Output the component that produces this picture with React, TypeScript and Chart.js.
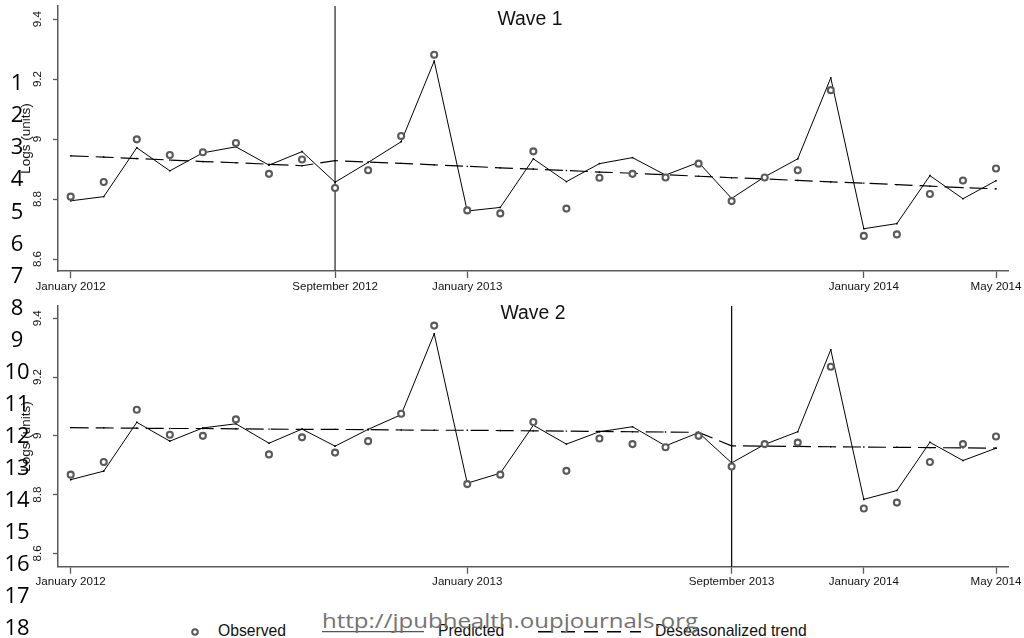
import React, { useEffect, useLayoutEffect, useRef } from "react";
import { Chart, registerables } from "chart.js";

Chart.register(...registerables);

// ---------- data ----------
const months = [
  "January 2012", "February 2012", "March 2012", "April 2012", "May 2012", "June 2012",
  "July 2012", "August 2012", "September 2012", "October 2012", "November 2012", "December 2012",
  "January 2013", "February 2013", "March 2013", "April 2013", "May 2013", "June 2013",
  "July 2013", "August 2013", "September 2013", "October 2013", "November 2013", "December 2013",
  "January 2014", "February 2014", "March 2014", "April 2014", "May 2014",
];

const wave1Observed = [8.808, 8.857, 8.999, 8.947, 8.956, 8.987, 8.884, 8.932, 8.837, 8.896, 9.010, 9.281, 8.762, 8.752, 8.959, 8.768, 8.871, 8.884, 8.872, 8.918, 8.793, 8.872, 8.896, 9.163, 8.677, 8.682, 8.817, 8.862, 8.902];
const wave1Predicted = [8.794, 8.808, 8.971, 8.894, 8.954, 8.974, 8.913, 8.958, 8.856, 8.922, 8.991, 9.260, 8.760, 8.772, 8.934, 8.858, 8.918, 8.938, 8.880, 8.922, 8.802, 8.874, 8.934, 9.204, 8.701, 8.718, 8.878, 8.801, 8.861];
const wave1Trend = [8.944, 8.940, 8.935, 8.930, 8.925, 8.921, 8.916, 8.911, 8.928, 8.923, 8.919, 8.914, 8.909, 8.904, 8.900, 8.895, 8.890, 8.886, 8.881, 8.876, 8.871, 8.867, 8.862, 8.857, 8.853, 8.848, 8.843, 8.838, 8.834];

const wave2Observed = [8.868, 8.911, 9.089, 9.004, 9.000, 9.056, 8.937, 8.995, 8.943, 8.982, 9.075, 9.375, 8.836, 8.868, 9.047, 8.881, 8.991, 8.972, 8.961, 9.000, 8.896, 8.972, 8.977, 9.235, 8.753, 8.773, 8.911, 8.972, 8.998];
const wave2Predicted = [8.851, 8.880, 9.046, 8.982, 9.027, 9.041, 8.975, 9.023, 8.965, 9.022, 9.072, 9.347, 8.839, 8.873, 9.036, 8.972, 9.014, 9.031, 8.966, 9.011, 8.908, 8.971, 9.014, 9.293, 8.784, 8.814, 8.978, 8.916, 8.958];
const wave2Trend = [9.028, 9.027, 9.026, 9.025, 9.025, 9.024, 9.023, 9.022, 9.022, 9.021, 9.020, 9.019, 9.019, 9.018, 9.017, 9.016, 9.015, 9.014, 9.013, 9.012, 8.966, 8.965, 8.964, 8.963, 8.962, 8.961, 8.960, 8.959, 8.958];

const yTickValues = [8.6, 8.8, 9, 9.2, 9.4];
const wave1XTicks = ["January 2012", "September 2012", "January 2013", "January 2014", "May 2014"];
const wave2XTicks = ["January 2012", "January 2013", "September 2013", "January 2014", "May 2014"];
const wave1Intervention = "September 2012";
const wave2Intervention = "September 2013";
const yAxisTitle = "Logs (units)";
const legendLabels = ["Observed", "Predicted", "Deseasonalized trend"];
const lineNumbers = ["1", "2", "3", "4", "5", "6", "7", "8", "9", "10", "11", "12", "13", "14", "15", "16", "17", "18"];
const watermark = "http://jpubhealth.oupjournals.org";

// ---------- styles ----------
const SANS = '"Liberation Sans", Arial, Helvetica, sans-serif';
const AXIS_COLOR = "#5a5a5a";
const OBS_COLOR = "#5a5a5a";

type PanelProps = {
  title: string;
  observed: number[];
  predicted: number[];
  trend: number[];
  xTicks: string[];
  intervention: string;
  yMin: number;
  yMax: number;
  top: number;
  height: number;
  padTop: number;
  xAxisHeight: number;
  titleBaseline: number;
  titleX: number;
  vlineColor: string;
};

function Panel(p: PanelProps) {
  const ref = useRef<HTMLCanvasElement | null>(null);
  useEffect(() => {
    const canvas = ref.current;
    if (!canvas) return;
    const toXY = (arr: number[]) => arr.map((v, i) => ({ x: i, y: v }));
    const interventionIndex = months.indexOf(p.intervention);
    const tickIdx = p.xTicks.map((m) => months.indexOf(m));

    const overlay = {
      id: "overlay",
      beforeDatasetsDraw(chart: any) {
        const { ctx, chartArea, scales } = chart;
        const x = scales.x.getPixelForValue(interventionIndex);
        ctx.save();
        ctx.strokeStyle = p.vlineColor;
        ctx.lineWidth = 1.3;
        ctx.beginPath();
        ctx.moveTo(x, chartArea.top);
        ctx.lineTo(x, chartArea.bottom);
        ctx.stroke();
        ctx.restore();
      },
      afterDraw(chart: any) {
        const { ctx } = chart;
        ctx.save();
        ctx.fillStyle = "#111";
        ctx.font = `19.4px ${SANS}`;
        ctx.textAlign = "center";
        ctx.textBaseline = "alphabetic";
        ctx.fillText(p.title, p.titleX, p.titleBaseline);
        ctx.restore();
      },
    };

    const chart = new Chart(canvas, {
      type: "line",
      data: {
        datasets: [
          {
            label: legendLabels[0],
            data: toXY(p.observed),
            showLine: false,
            pointStyle: "circle",
            pointRadius: 3,
            pointBorderWidth: 2.1,
            pointBorderColor: OBS_COLOR,
            pointBackgroundColor: "#ffffff",
            borderColor: OBS_COLOR,
          },
          {
            label: legendLabels[1],
            data: toXY(p.predicted),
            borderColor: "#000",
            borderWidth: 1,
            pointStyle: "rect",
            pointRadius: 1.1,
            pointBorderWidth: 0,
            pointBackgroundColor: "#000",
            tension: 0,
          },
          {
            label: legendLabels[2],
            data: toXY(p.trend),
            borderColor: "#000",
            borderWidth: 1.2,
            borderDash: [18, 7],
            pointStyle: "rect",
            pointRadius: 1,
            pointBorderWidth: 0,
            pointBackgroundColor: "#000",
            tension: 0,
          },
        ],
      },
      options: {
        animation: false,
        responsive: false,
        devicePixelRatio: 1,
        events: [],
        layout: { padding: { left: 0, right: 16, top: p.padTop, bottom: 0 } },
        plugins: { legend: { display: false }, tooltip: { enabled: false } },
        scales: {
          x: {
            type: "linear",
            min: -0.384,
            max: 28.363,
            afterBuildTicks: (s: any) => {
              s.ticks = tickIdx.map((v) => ({ value: v }));
            },
            afterFit: (s: any) => {
              s.height = p.xAxisHeight;
              s.paddingLeft = 0;
              s.paddingRight = 0;
            },
            grid: {
              display: true,
              drawOnChartArea: false,
              drawTicks: true,
              tickLength: 7,
              tickColor: AXIS_COLOR,
              tickWidth: 1.3,
            },
            border: { display: true, color: AXIS_COLOR, width: 1.5 },
            ticks: {
              autoSkip: false,
              minRotation: 0,
              maxRotation: 0,
              padding: 1.5,
              color: "#111",
              font: { family: SANS, size: 11.6 },
              callback: (v: any) => months[Math.round(Number(v))] ?? "",
            },
          },
          y: {
            type: "linear",
            min: p.yMin,
            max: p.yMax,
            afterBuildTicks: (s: any) => {
              s.ticks = yTickValues.map((v) => ({ value: v }));
            },
            afterFit: (s: any) => {
              s.width = 58;
              s.paddingTop = 0;
              s.paddingBottom = 0;
            },
            grid: {
              display: true,
              drawOnChartArea: false,
              drawTicks: true,
              tickLength: 5,
              tickColor: AXIS_COLOR,
              tickWidth: 1.3,
            },
            border: { display: true, color: AXIS_COLOR, width: 1.5 },
            ticks: {
              minRotation: 90,
              maxRotation: 90,
              crossAlign: "center",
              padding: 7,
              color: "#111",
              font: { family: SANS, size: 11.6 },
              callback: (v: any) => String(Number(v)),
            },
            title: {
              display: true,
              text: yAxisTitle,
              color: "#111",
              font: { family: SANS, size: 13.5 },
              padding: { top: 18, bottom: 0 },
            },
          },
        },
      } as any,
      plugins: [overlay],
    });
    return () => chart.destroy();
  }, []);

  return (
    <canvas
      ref={ref}
      width={1024}
      height={p.height}
      style={{ position: "absolute", left: 0, top: p.top, width: 1024, height: p.height }}
    />
  );
}

function Watermark() {
  const ref = useRef<HTMLSpanElement | null>(null);
  useLayoutEffect(() => {
    const el = ref.current;
    if (!el) return;
    const w = el.getBoundingClientRect().width;
    if (w > 0) el.style.transform = `scaleX(${376 / w})`;
  }, []);
  const fs = 20.5;
  return (
    <span
      ref={ref}
      style={{
        position: "absolute",
        left: 322,
        top: 628 - 0.388 * fs,
        lineHeight: 0,
        fontFamily: '"Open Sans", "Noto Sans", sans-serif',
        fontSize: fs,
        color: "#737373",
        whiteSpace: "nowrap",
        transformOrigin: "0 0",
        display: "inline-block",
      }}
    >
      {watermark}
    </span>
  );
}

function Legend() {
  const fs = 15.7;
  const baseline = 636;
  const txt = (left: number, text: string) => (
    <div
      key={text}
      style={{
        position: "absolute",
        left,
        top: baseline - 0.3465 * fs,
        lineHeight: 0,
        fontFamily: SANS,
        fontSize: fs,
        color: "#111",
        whiteSpace: "nowrap",
      }}
    >
      {text}
    </div>
  );
  return (
    <>
      <svg
        width={1024}
        height={38}
        style={{ position: "absolute", left: 0, top: 600 }}
      >
        <circle cx={195} cy={32} r={2.8} fill="#fff" stroke={OBS_COLOR} strokeWidth={2} />
        <line x1={322} y1={31.7} x2={424} y2={31.7} stroke="#555" strokeWidth={1.2} />
        <line x1={538} y1={31.7} x2={641} y2={31.7} stroke="#000" strokeWidth={1.4} strokeDasharray="14 9" />
      </svg>
      {txt(218, legendLabels[0])}
      {txt(438, legendLabels[1])}
      {txt(655, legendLabels[2])}
    </>
  );
}

function LineNumbers() {
  const fs = 22;
  return (
    <>
      {lineNumbers.map((n, i) => {
        const baseline = 89.8 + i * 32.07;
        return (
          <div
            key={n}
            style={{
              position: "absolute",
              left: 0,
              width: 34,
              textAlign: "center",
              top: baseline - 0.388 * fs,
              lineHeight: 0,
              fontFamily: '"Open Sans", "Noto Sans", sans-serif',
              fontSize: fs,
              color: "#000",
              whiteSpace: "nowrap",
            }}
          >
            {n}
          </div>
        );
      })}
    </>
  );
}

export default function App() {
  return (
    <div
      style={{
        position: "absolute",
        left: 0,
        top: 0,
        width: 1024,
        height: 638,
        background: "#fff",
        overflow: "hidden",
      }}
    >
      <Panel
        title="Wave 1"
        observed={wave1Observed}
        predicted={wave1Predicted}
        trend={wave1Trend}
        xTicks={wave1XTicks}
        intervention={wave1Intervention}
        yMin={8.56}
        yMax={9.4433}
        top={0}
        height={300}
        padTop={6}
        xAxisHeight={29}
        titleBaseline={25}
        titleX={530}
        vlineColor="#333"
      />
      <Panel
        title="Wave 2"
        observed={wave2Observed}
        predicted={wave2Predicted}
        trend={wave2Trend}
        xTicks={wave2XTicks}
        intervention={wave2Intervention}
        yMin={8.555}
        yMax={9.4413}
        top={300}
        height={300}
        padTop={2.7}
        xAxisHeight={33.3}
        titleBaseline={19.3}
        titleX={533}
        vlineColor="#111"
      />
      <Legend />
      <Watermark />
      <LineNumbers />
    </div>
  );
}
